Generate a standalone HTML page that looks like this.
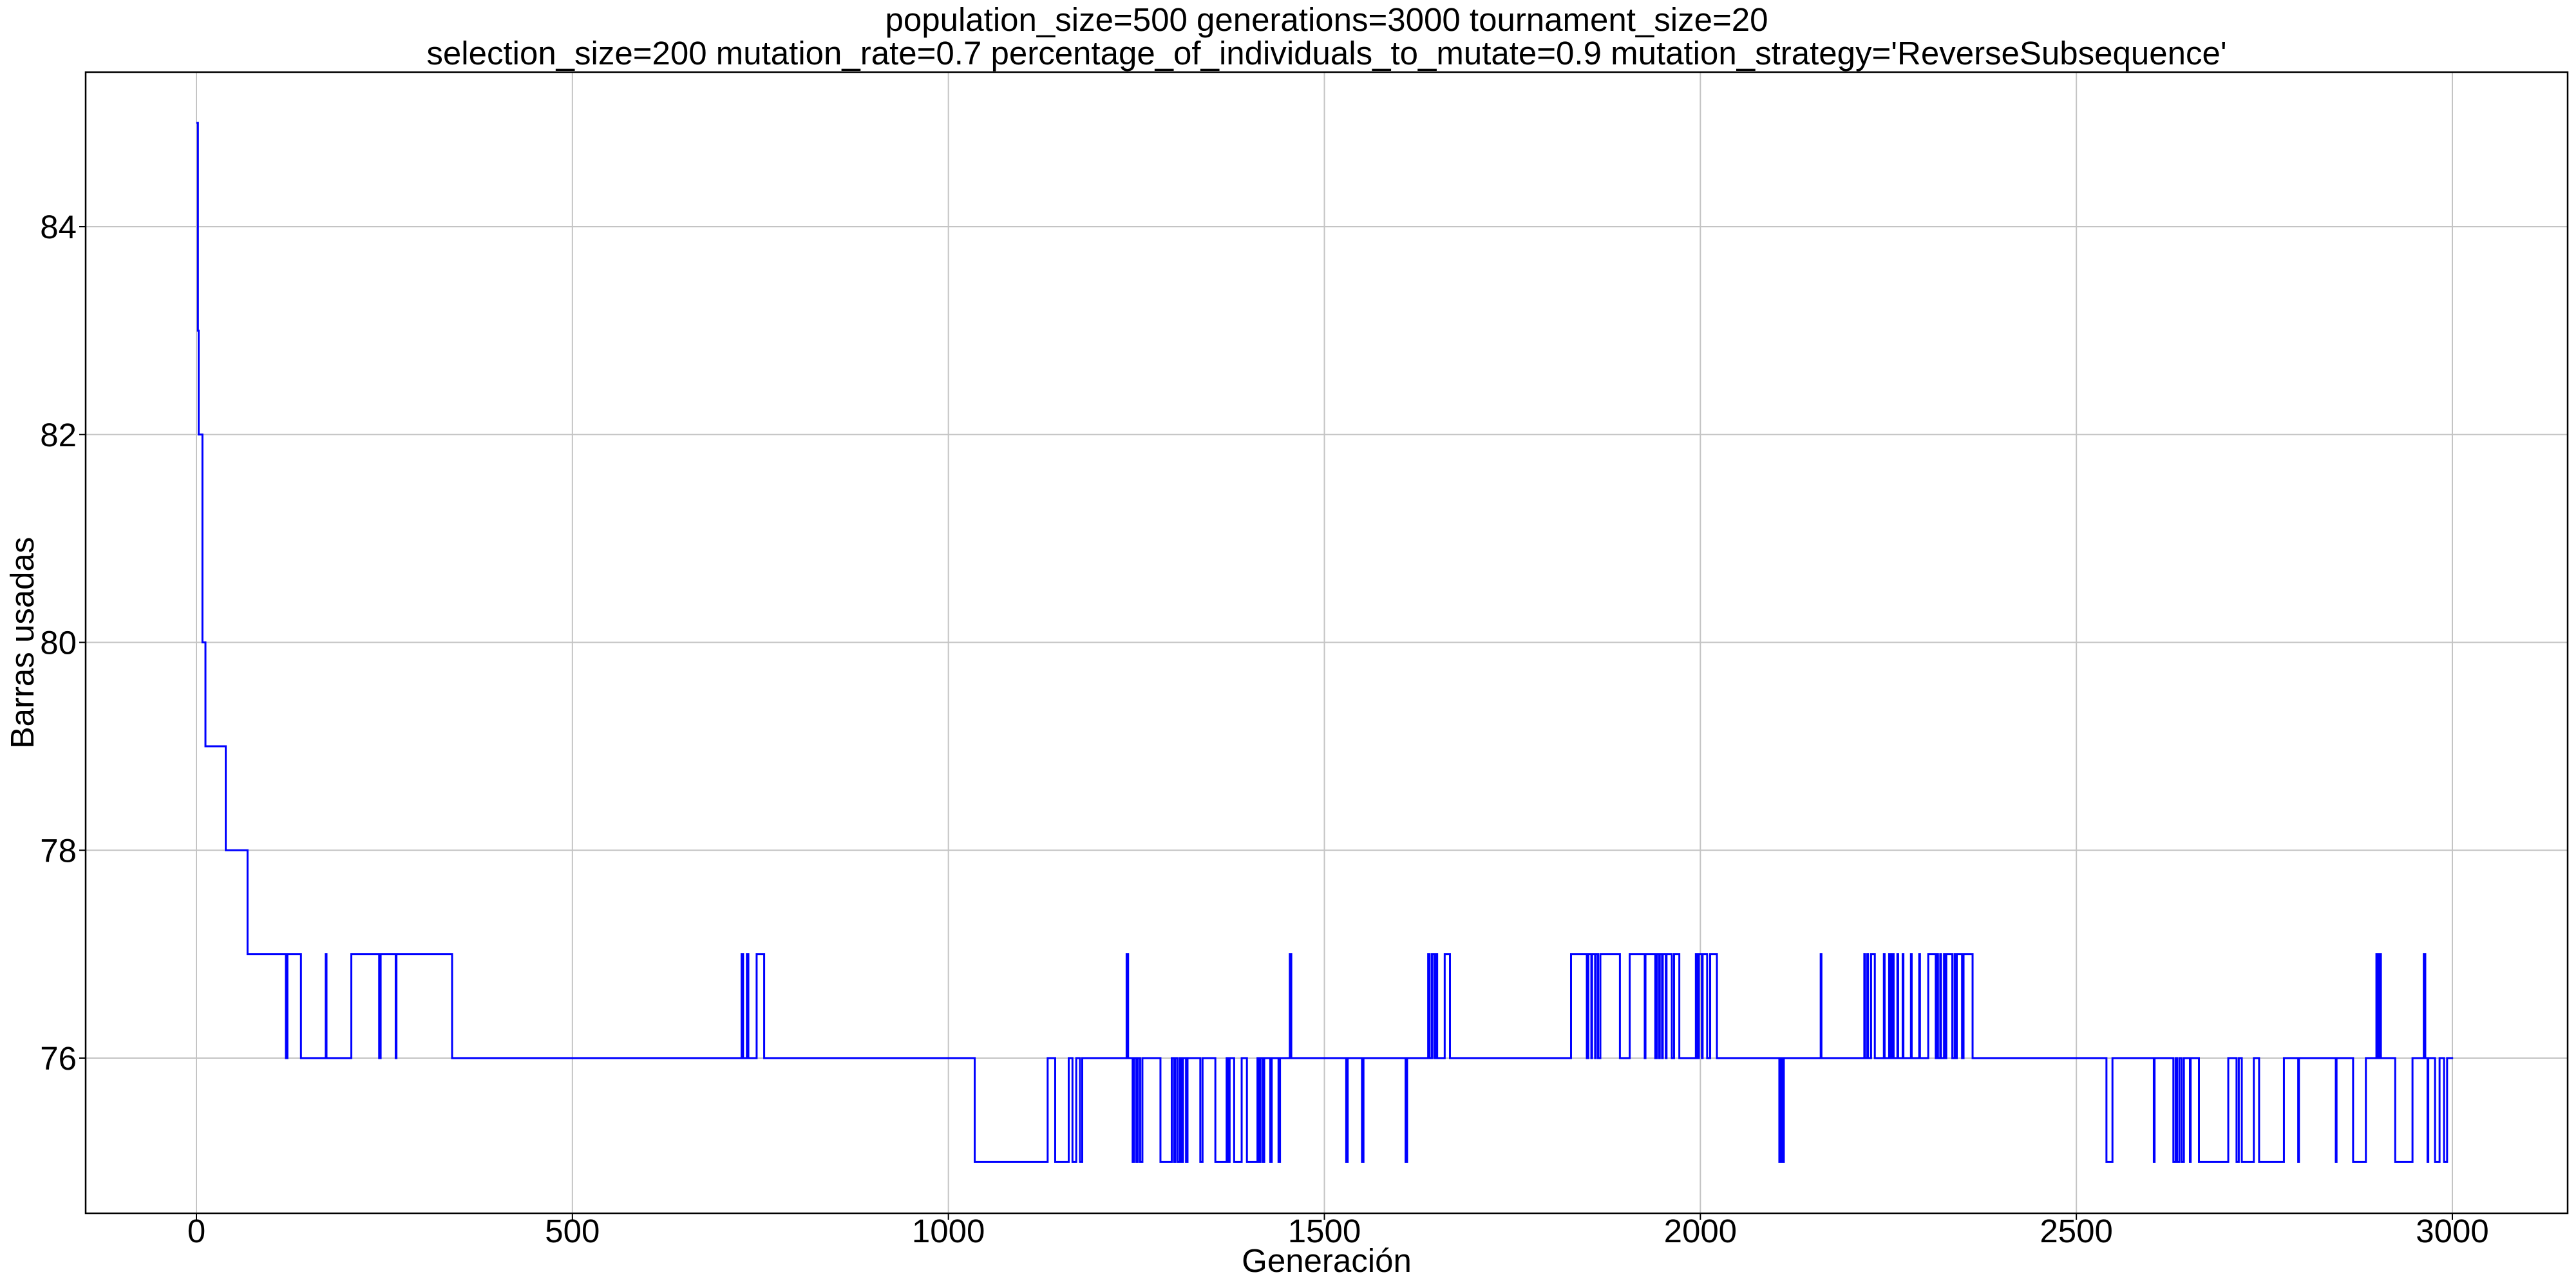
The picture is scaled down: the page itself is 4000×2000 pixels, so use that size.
<!DOCTYPE html>
<html><head><meta charset="utf-8">
<style>
html,body{margin:0;padding:0;background:#fff;}
svg{display:block;}
text{font-family:"Liberation Sans",sans-serif;fill:#000;}
</style></head>
<body>
<svg id="chart" width="4000" height="2000" viewBox="0 0 4000 2000" xmlns="http://www.w3.org/2000/svg">
<rect x="0" y="0" width="4000" height="2000" fill="#fff"/>
<text x="2060" y="48" font-size="51" text-anchor="middle">population_size=500 generations=3000 tournament_size=20</text>
<text x="2060" y="100" font-size="51" text-anchor="middle">selection_size=200 mutation_rate=0.7 percentage_of_individuals_to_mutate=0.9 mutation_strategy='ReverseSubsequence'</text>
<g id="grid"></g>
<g id="series"></g>
<rect x="133" y="112" width="3854" height="1772" fill="none" stroke="#000" stroke-width="2.5"/>
<g id="xticks"></g>
<g id="yticks"></g>
<text x="2060" y="1975" font-size="51" text-anchor="middle">Generación</text>
<text x="0" y="0" font-size="51" text-anchor="middle" transform="translate(52,998) rotate(-90)">Barras usadas</text>
</svg>
<script>
const xTicks = [0, 500, 1000, 1500, 2000, 2500, 3000];
const yTicks = [76, 78, 80, 82, 84];
// change points: generation where value changes, and new value
const gens = [0,2,3,8,12,13,39,68,119,121,139,172,173,206,243,245,265,266,340,
725,727,732,734,745,755,1035,1132,1142,1160,1165,1170,1175,1178,1237,1239,
1245,1247,1250,1252,1255,1258,1282,1297,1300,1302,1305,1308,1310,1312,1316,1318,1335,1338,1355,1370,1372,1374,1380,1390,1397,1411,1413,1415,1418,1420,1428,1430,1439,1441,1454,1456,
1529,1531,1550,1552,1608,1610,1638,1640,1643,1646,1648,1650,1660,1667,
1828,1849,1851,1855,1856,1860,1861,1864,1867,1893,1906,1926,1927,1940,1942,1945,1946,1949,1950,1954,1955,1962,1965,1972,1994,1996,1998,2002,2003,2009,2013,2022,
2105,2107,2109,2111,2115,2160,2161,2218,2219,2222,2223,2227,2232,2244,2245,2251,2252,2254,2255,2256,2257,2262,2263,2269,2270,2280,2281,2291,2292,2303,2313,2315,2316,2319,2320,2324,2325,2327,2335,2338,2339,2341,2348,2350,2362,
2540,2548,2551,2603,2604,2629,2632,2634,2637,2640,2643,2651,2652,2663,2702,2713,2716,2720,2736,2743,2776,2795,2796,2845,2846,2868,2885,2899,2901,2903,2905,2924,2947,2962,2964,2967,2968,2977,2983,2989,2993,3001];
const vals = [85,83,82,80,79,79,78,77,76,77,76,77,76,77,76,77,76,77,76,
77,76,77,76,77,76,75,76,75,76,75,76,75,76,77,76,
75,76,75,76,75,76,75,76,75,76,75,76,75,76,75,76,75,76,75,76,75,76,75,76,75,76,75,76,75,76,75,76,75,76,77,76,
75,76,75,76,75,76,77,76,77,76,77,76,77,76,
77,76,77,76,77,76,77,76,77,76,77,76,77,76,77,76,77,76,77,76,77,76,77,76,77,76,77,76,77,76,77,76,
75,76,75,76,76,77,76,77,76,77,76,77,76,77,76,77,76,77,76,77,76,77,76,77,76,77,76,77,76,77,76,77,76,77,76,77,76,77,76,77,76,77,76,77,76,
75,76,76,75,76,75,76,75,76,75,76,75,76,75,76,75,76,75,76,75,76,75,76,75,76,75,76,77,76,77,76,75,76,77,76,75,76,75,76,75,76,76];

const NS = "http://www.w3.org/2000/svg";
const L = 133, R = 3987, T = 112, B = 1884;
function xs(g){ return 305 + g * (3808 - 305) / 3000; }
function ys(v){ return 1643 - (v - 76) * (1643 - 352) / 8; }

const grid = document.getElementById('grid');
const xt = document.getElementById('xticks');
const yt = document.getElementById('yticks');
xTicks.forEach(t => {
  const x = xs(t);
  const gl = document.createElementNS(NS, 'line');
  
  
  gl.setAttribute('x1', x); gl.setAttribute('x2', x); gl.setAttribute('y1', T); gl.setAttribute('y2', B);
  gl.setAttribute('stroke', '#c4c4c4'); gl.setAttribute('stroke-width', '2');
  grid.appendChild(gl);
  const tk = document.createElementNS(NS, 'line');
  
  
  tk.setAttribute('x1', x); tk.setAttribute('x2', x); tk.setAttribute('y1', B); tk.setAttribute('y2', B + 10);
  tk.setAttribute('stroke', '#000'); tk.setAttribute('stroke-width', '2');
  xt.appendChild(tk);
  const tx = document.createElementNS(NS, 'text');
  
  
  tx.setAttribute('x', x); tx.setAttribute('y', 1929);
  tx.setAttribute('font-size', '51'); tx.setAttribute('text-anchor', 'middle');
  tx.textContent = t;
  xt.appendChild(tx);
});
yTicks.forEach(t => {
  const y = ys(t);
  const gl = document.createElementNS(NS, 'line');
  
  
  gl.setAttribute('x1', L); gl.setAttribute('x2', R); gl.setAttribute('y1', y); gl.setAttribute('y2', y);
  gl.setAttribute('stroke', '#c4c4c4'); gl.setAttribute('stroke-width', '2');
  grid.appendChild(gl);
  const tk = document.createElementNS(NS, 'line');
  
  
  tk.setAttribute('x1', L - 10); tk.setAttribute('x2', L); tk.setAttribute('y1', y); tk.setAttribute('y2', y);
  tk.setAttribute('stroke', '#000'); tk.setAttribute('stroke-width', '2');
  yt.appendChild(tk);
  const tx = document.createElementNS(NS, 'text');
  
  
  tx.setAttribute('x', L - 14); tx.setAttribute('y', y + 18);
  tx.setAttribute('font-size', '51'); tx.setAttribute('text-anchor', 'end');
  tx.textContent = t;
  yt.appendChild(tx);
});

let d = '';
for (let i = 0; i < gens.length; i++) {
  const x = xs(gens[i]), y = ys(vals[i]);
  if (i === 0) d += 'M' + x + ' ' + y;
  else d += ' L' + x + ' ' + ys(vals[i - 1]) + ' L' + x + ' ' + y;
}
const p = document.createElementNS(NS, 'path');


p.setAttribute('d', d);
p.setAttribute('fill', 'none');
p.setAttribute('stroke', '#0000ff');
p.setAttribute('stroke-width', '3');
p.setAttribute('stroke-linejoin', 'miter');
document.getElementById('series').appendChild(p);
</script>
</body></html>
